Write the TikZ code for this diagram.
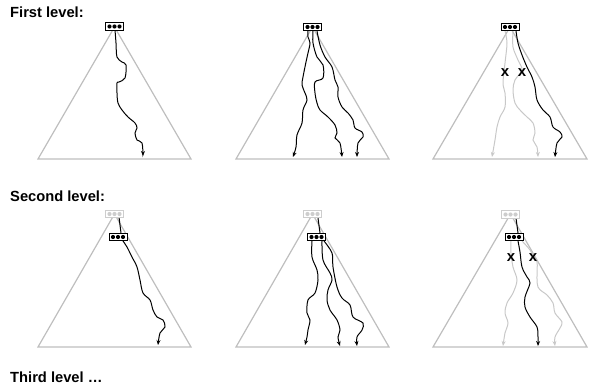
\documentclass[tikz,border=0pt]{standalone}
\usepackage{fontspec}
\setmainfont{Liberation Sans}
\usetikzlibrary{arrows.meta}
\definecolor{tri}{RGB}{190,190,190}
\definecolor{faint}{RGB}{200,200,200}
\definecolor{boxgray}{RGB}{205,205,205}
\tikzset{
  tri/.style={draw=tri, line width=1.2pt, line join=miter},
  walk/.style={draw=black, line width=1pt, -{Stealth[length=5pt,width=4pt]}},
  fadewalk/.style={draw=faint, line width=1pt, -{Stealth[length=5pt,width=4pt]}},
  trunk/.style={draw=black, line width=1pt},
  dotbox/.style={draw=#1, fill=white, line width=0.8pt, minimum width=18pt, minimum height=7.5pt, inner sep=0pt,
    path picture={\foreach \dx in {-5,0,5} \fill[#1] ([xshift=\dx pt]path picture bounding box.center) circle (2.1pt);}},
  lvl/.style={anchor=base west, inner sep=0pt, font=\fontsize{14.7}{17}\selectfont\bfseries},
  cross/.style={inner sep=0pt, font=\fontsize{15}{15}\selectfont\bfseries}
}
\begin{document}
\begin{tikzpicture}[x=1pt,y=-1pt]
\useasboundingbox (0,0) rectangle (589,388);
% labels
\node[lvl] (l1) at (10,17) {First level:};
\node[lvl] (l2) at (10,201) {Second level:};
\node[lvl] (l3) at (10,382) {Third level \dots};
% triangles
\draw[tri] (114.5,27) -- (38,159) -- (191,159) -- cycle;
\draw[tri] (312.5,27) -- (236,159) -- (389,159) -- cycle;
\draw[tri] (510,27) -- (433,159) -- (587,159) -- cycle;
\draw[tri] (114.5,214) -- (38,347) -- (191,347) -- cycle;
\draw[tri] (312.5,214) -- (236,347) -- (389,347) -- cycle;
\draw[tri] (510.5,214) -- (433,347) -- (587,347) -- cycle;
% panel 1
\draw[walk] plot[smooth, tension=0.55] coordinates {(115,30) (116,43) (117,57) (122,62) (126,65) (125,78) (119,82) (117,83) (117,93) (118,103) (122,110) (128,117) (135,123) (137,128) (135,133) (137,140) (142,143) (143,156)};
% panel 2
\draw[walk] plot[smooth, tension=0.55] coordinates {(308,31) (308,37) (310,43) (308,53) (306,62) (303,77) (302,85) (305,93) (307,100) (303,110) (302,123) (297,135) (296,147) (293,157)};
\draw[walk] plot[smooth, tension=0.55] coordinates {(313,31) (313,43) (317,57) (323,65) (323,78) (315,82) (315,93) (317,103) (320,110) (328,117) (335,125) (337,133) (335,138) (340,143) (342,157)};
\draw[walk] plot[smooth, tension=0.55] coordinates {(317,31) (320,45) (325,57) (332,67) (335,80) (338,87) (338,97) (342,107) (348,113) (353,120) (355,128) (362,132) (363,137) (358,143) (357,157)};
% panel 3
\draw[fadewalk] plot[smooth, tension=0.55] coordinates {(505,31) (507,43) (505,63) (503,83) (505,93) (505,107) (500,117) (497,127) (495,140) (492,157)};
\draw[fadewalk] plot[smooth, tension=0.55] coordinates {(513,31) (513,47) (518,60) (522,70) (515,80) (513,90) (515,103) (520,110) (527,117) (533,123) (535,133) (533,140) (537,147) (538,157)};
\draw[walk] plot[smooth, tension=0.55] coordinates {(516,31) (518,43) (522,55) (527,67) (532,77) (535,87) (537,100) (543,110) (550,117) (553,127) (560,132) (562,137) (557,143) (555,157)};
% panel 4
\draw[trunk] (119,217) -- (121,233);
\draw[walk] plot[smooth, tension=0.55] coordinates {(123,241) (127,247) (132,257) (137,267) (140,280) (143,293) (150,300) (153,310) (157,317) (163,320) (165,327) (160,333) (158,345)};
% panel 5
\draw[trunk] (318,218) -- (320,233);
\draw[walk] plot[smooth, tension=0.55] coordinates {(312,241) (312,257) (317,270) (318,280) (315,293) (308,300) (307,313) (310,320) (308,330) (307,337) (305,345)};
\draw[walk] plot[smooth, tension=0.55] coordinates {(322,241) (323,260) (330,273) (332,280) (328,290) (327,300) (330,310) (337,320) (340,330) (338,337) (340,346)};
\draw[walk] plot[smooth, tension=0.55] coordinates {(324,241) (332,253) (333,267) (337,287) (342,298) (350,305) (353,317) (363,323) (362,330) (357,337) (357,346)};
% panel 6
\draw[trunk] (516,218) -- (518,233);
\draw[fadewalk] plot[smooth, tension=0.55] coordinates {(511,241) (511,253) (513,267) (517,280) (513,293) (507,303) (505,313) (508,323) (505,333) (503,346)};
\draw[fadewalk] plot[smooth, tension=0.55] coordinates {(522,241) (530,250) (537,262) (537,270) (538,287) (547,295) (553,303) (555,313) (562,322) (560,328) (555,337) (555,346)};
\draw[walk] plot[smooth, tension=0.55] coordinates {(518,241) (520,252) (522,267) (527,277) (530,283) (525,297) (525,307) (530,317) (537,327) (538,337) (538,346)};
% boxes
\node[dotbox=black] (b1) at (114.5,26.5) {};
\node[dotbox=black] (b2) at (312.5,27) {};
\node[dotbox=black] (b3) at (510,27) {};
\node[dotbox=boxgray] (g4) at (114.5,214) {};
\node[dotbox=black] (k4) at (118,237) {};
\node[dotbox=boxgray] (g5) at (312.5,214) {};
\node[dotbox=black] (k5) at (316.5,237) {};
\node[dotbox=boxgray] (g6) at (510.5,214.5) {};
\node[dotbox=black] (k6) at (514,237) {};
% crosses
\node[cross] (x1) at (505,73) {x};
\node[cross] (x2) at (522,73) {x};
\node[cross] (x3) at (511,258) {x};
\node[cross] (x4) at (533,258) {x};
\end{tikzpicture}
\end{document}
